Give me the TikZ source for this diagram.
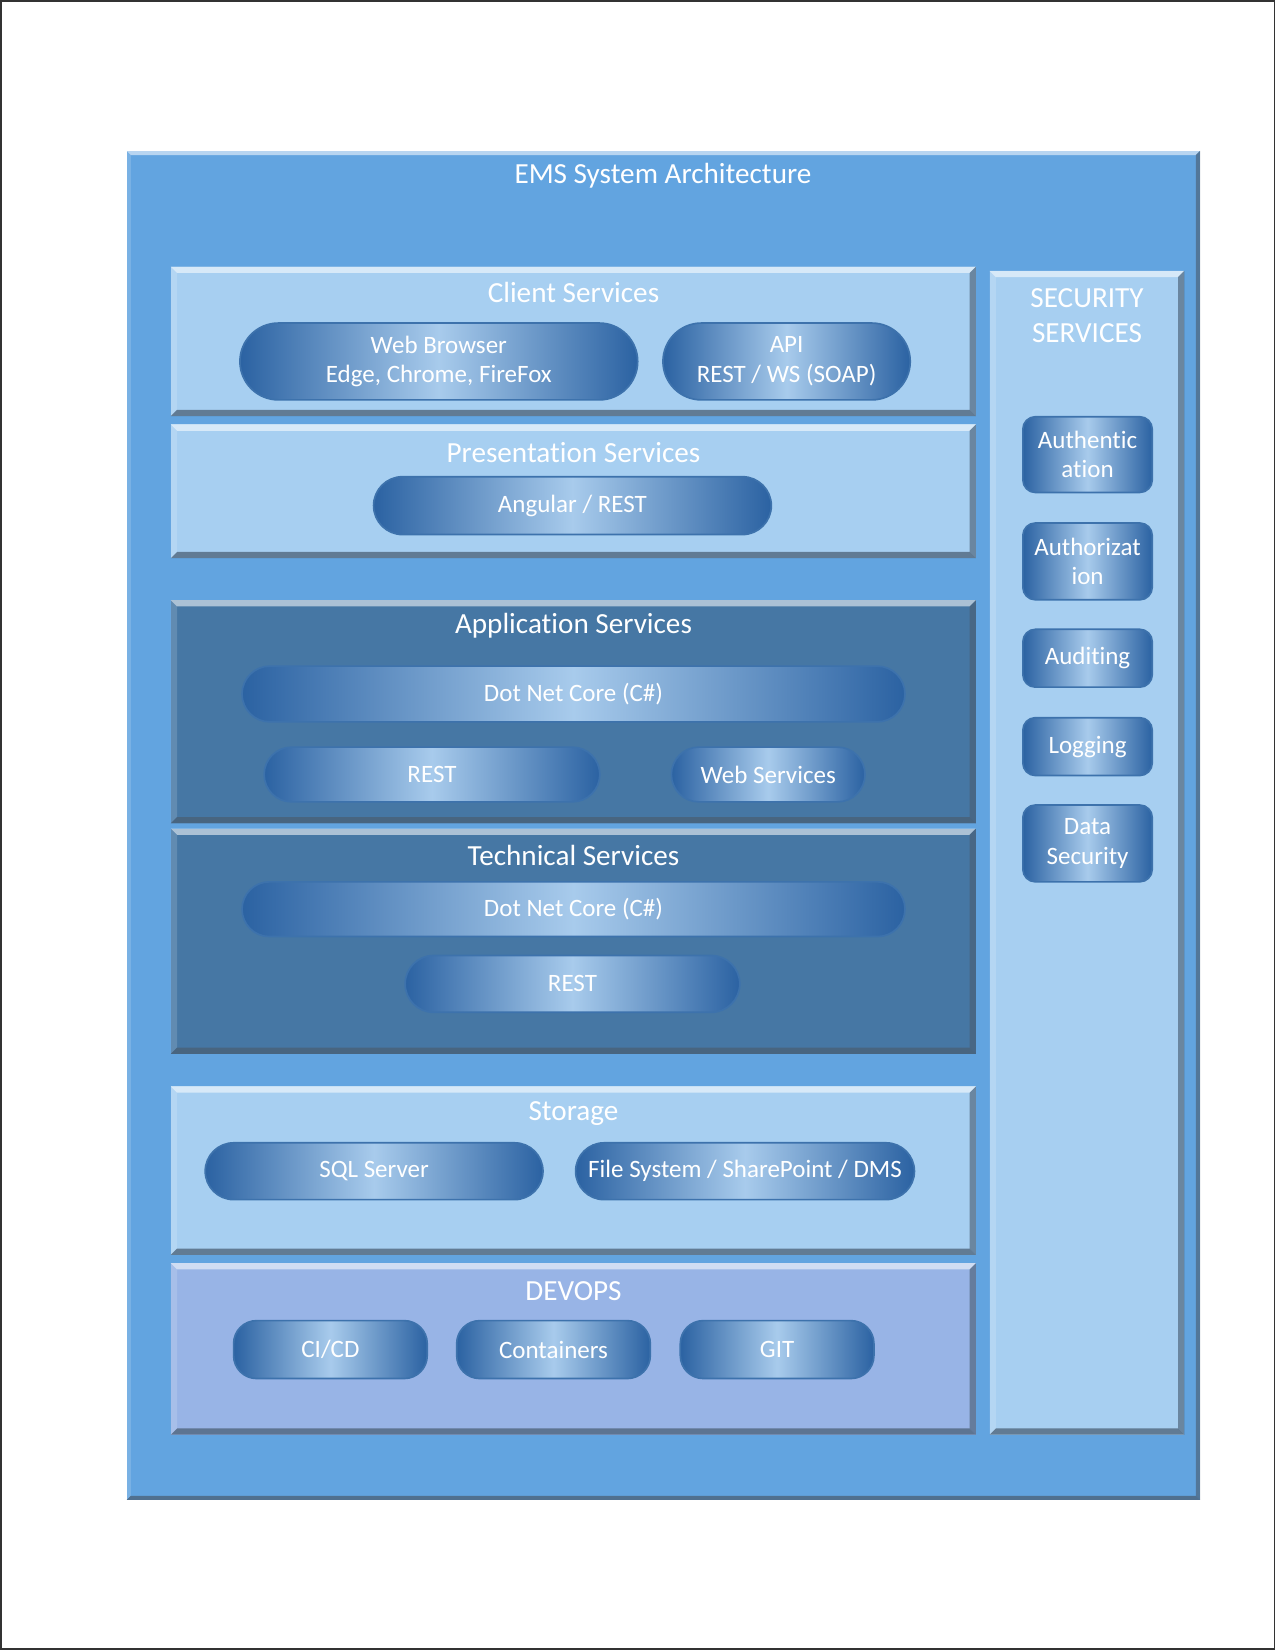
\documentclass[tikz,border=0pt]{standalone}
\usepackage{fontspec}
\setmainfont{Carlito}[RawFeature={-liga;-clig;-calt;-dlig}]
\usetikzlibrary{shapes.misc}

\newcommand{\upx}{0.505pt}
\definecolor{framebg}{HTML}{62A4E0}
\definecolor{lightbg}{HTML}{A7CFF1}
\definecolor{darkbg}{HTML}{4677A4}
\definecolor{devopsbg}{HTML}{98B4E6}
\definecolor{pilldark}{HTML}{2B62A2}
\definecolor{pillmid}{HTML}{A8CBEC}
\definecolor{pillline}{HTML}{3D72AC}
\definecolor{shadowgray}{HTML}{4A5F75}

\tikzset{
    bevel/.style={path picture={
        \coordinate (bnw) at (path picture bounding box.north west);
        \coordinate (bne) at (path picture bounding box.north east);
        \coordinate (bsw) at (path picture bounding box.south west);
        \coordinate (bse) at (path picture bounding box.south east);
        \fill[white, opacity=.55] (bnw) -- (bne) -- ([shift={(-#1,-#1)}]bne) -- ([shift={(#1,-#1)}]bnw) -- cycle;
        \fill[white, opacity=.15] (bnw) -- ([shift={(#1,-#1)}]bnw) -- ([shift={(#1,#1)}]bsw) -- (bsw) -- cycle;
        \fill[shadowgray, opacity=.65] (bne) -- (bse) -- ([shift={(-#1,#1)}]bse) -- ([shift={(-#1,-#1)}]bne) -- cycle;
        \fill[shadowgray, opacity=.75] (bsw) -- (bse) -- ([shift={(-#1,#1)}]bse) -- ([shift={(#1,#1)}]bsw) -- cycle;
    }},
    layer/.style={anchor=north west, inner sep=0pt, bevel=3pt},
    lightlayer/.style={layer, fill=lightbg},
    darklayer/.style={layer, fill=darkbg},
    devopslayer/.style={layer, fill=devopsbg},
    layertitle/.style={text=white, font=\fontsize{14}{17}\selectfont, align=center, inner sep=0pt},
    pill/.style={rounded rectangle, draw=pillline, line width=0.8pt, inner sep=0pt,
        left color=pilldark, right color=pilldark, middle color=pillmid,
        text=white, font=\fontsize{12}{14.2}\selectfont, align=center},
    tile/.style={pill, rectangle, rounded corners=#1},
    tile/.default=6pt
}

\begin{document}
\begin{tikzpicture}[x=\upx, y=-\upx]

    \useasboundingbox (0,0) rectangle (1212,1568);
    \draw[black!80, line width=0.8pt] (1,1) rectangle (1211,1567);

    % outer frame
    \node[layer, bevel=2pt, fill=framebg, minimum width=1020*\upx, minimum height=1282*\upx] (frame) at (120,143) {};
    \node[layertitle] (frameT) at (630,167) {EMS System Architecture};

    % layers
    \node[lightlayer, minimum width=765*\upx, minimum height=142*\upx] (client) at (162,253) {};
    \node[lightlayer, minimum width=765*\upx, minimum height=127*\upx] (present) at (162,403) {};
    \node[darklayer, minimum width=765*\upx, minimum height=212*\upx] (app) at (162,570) {};
    \node[darklayer, minimum width=765*\upx, minimum height=214*\upx] (tech) at (162,787) {};
    \node[lightlayer, minimum width=765*\upx, minimum height=160*\upx] (storage) at (162,1032) {};
    \node[devopslayer, minimum width=765*\upx, minimum height=163*\upx] (devops) at (162,1200) {};
    \node[lightlayer, minimum width=185*\upx, minimum height=1106*\upx] (security) at (940,257) {};

    \node[layertitle] (clientT) at (545,278) {Client Services};
    \node[layertitle] (presentT) at (545,430) {Presentation Services};
    \node[layertitle] (appT) at (545,595) {Application Services};
    \node[layertitle] (techT) at (545,813) {Technical Services};
    \node[layertitle] (storageT) at (545,1058) {Storage};
    \node[layertitle] (devopsT) at (545,1227) {DEVOPS};
    \node[layertitle] (securityT) at (1033,300) {SECURITY\\SERVICES};

    % client and presentation
    \node[pill, minimum width=378*\upx, minimum height=73*\upx] (browser) at (417,343.5) {Web Browser\\Edge, Chrome, FireFox};
    \node[pill, minimum width=235*\upx, minimum height=73*\upx] (api) at (747.5,343.5) {API\\REST / WS (SOAP)};
    \node[pill, minimum width=378*\upx, minimum height=55*\upx] (angular) at (544,480.5) {Angular / REST};

    % application and technical
    \node[pill, minimum width=630*\upx, minimum height=53*\upx] (appNet) at (545,659.5) {Dot Net Core (C\#)};
    \node[pill, minimum width=319*\upx, minimum height=52*\upx] (appRest) at (410.5,736) {REST};
    \node[pill, minimum width=184*\upx, minimum height=52*\upx] (appWs) at (730,736) {Web Services};
    \node[pill, minimum width=630*\upx, minimum height=52*\upx] (techNet) at (545,864) {Dot Net Core (C\#)};
    \node[pill, minimum width=318*\upx, minimum height=54*\upx] (techRest) at (544,935) {REST};

    % storage and devops
    \node[pill, minimum width=321*\upx, minimum height=54*\upx] (sql) at (355.5,1113) {SQL Server};
    \node[pill, minimum width=322*\upx, minimum height=54*\upx] (files) at (708,1113) {File System / SharePoint / DMS};
    \node[tile=11pt, minimum width=184*\upx, minimum height=55*\upx] (cicd) at (314,1282.5) {CI/CD};
    \node[tile=11pt, minimum width=184*\upx, minimum height=55*\upx] (containers) at (526,1282.5) {Containers};
    \node[tile=11pt, minimum width=184*\upx, minimum height=55*\upx] (git) at (738.5,1282.5) {GIT};

    % security
    \node[tile, minimum width=123*\upx, minimum height=72*\upx] (authn) at (1033.5,432) {Authentic\\ation};
    \node[tile, minimum width=123*\upx, minimum height=73*\upx] (authz) at (1033.5,533.5) {Authorizat\\ion};
    \node[tile, minimum width=123*\upx, minimum height=55*\upx] (audit) at (1033.5,625.5) {Auditing};
    \node[tile, minimum width=123*\upx, minimum height=55*\upx] (logging) at (1033.5,709.5) {Logging};
    \node[tile, minimum width=123*\upx, minimum height=73*\upx] (datasec) at (1033.5,801.5) {Data\\Security};

\end{tikzpicture}
\end{document}
